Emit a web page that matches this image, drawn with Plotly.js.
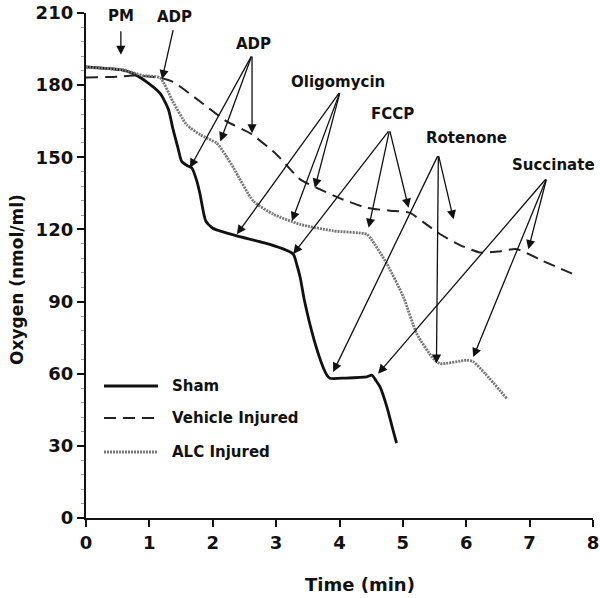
<!DOCTYPE html>
<html>
<head>
<meta charset="utf-8">
<script src="https://cdn.plot.ly/plotly-3.0.1.min.js"></script>
<style>html,body{margin:0;padding:0;background:#fff;}#chart{width:600px;height:598px;}</style>
</head>
<body>
<div id="chart"></div>
<script>
// Sham
const shamTime = [0, 0.3, 0.55, 0.74, 0.95, 1.17, 1.3, 1.37, 1.45, 1.51, 1.6, 1.67, 1.75, 1.8, 1.89, 2.0, 2.11, 2.38, 2.8, 3.1, 3.27, 3.33, 3.38, 3.45, 3.6, 3.74, 3.8, 3.85, 4.1, 4.43, 4.51, 4.58, 4.64, 4.75, 4.83, 4.9];
const shamO2 = [187.6, 187, 186.4, 184.9, 181.5, 176.6, 170, 162, 154, 148.3, 146.5, 145.6, 140, 134.6, 123.5, 120.5, 119.4, 117.3, 114.5, 112, 109.8, 105, 100, 90, 74, 62.8, 59.5, 58.1, 58.2, 58.7, 59.4, 57, 54.5, 46, 38, 31.1];
// Vehicle injured
const vehTime = [0, 0.5, 0.75, 1.17, 1.37, 1.8, 2.22, 2.59, 3.01, 3.38, 3.64, 4.0, 4.43, 4.8, 5.11, 5.35, 5.59, 5.9, 6.22, 6.5, 6.8, 7.2, 7.75];
const vehO2 = [183.2, 183.5, 184, 183, 181.4, 173.2, 164.9, 160, 151.1, 140.8, 137.3, 133, 129, 127.8, 126.9, 122.5, 118, 113.5, 110.4, 110.8, 111.8, 107, 100.7];
// ALC injured
const alcTime = [0, 0.3, 0.58, 0.9, 1.17, 1.37, 1.59, 1.8, 2.06, 2.2, 2.33, 2.64, 2.96, 3.38, 3.9, 4.43, 4.5, 4.75, 5.01, 5.22, 5.48, 5.59, 6.01, 6.11, 6.3, 6.64];
const alcO2 = [187.4, 187, 186.4, 184, 183, 173.2, 163.5, 159.4, 155.9, 151, 145.5, 131.8, 126.3, 122.1, 119.4, 118, 116, 105.6, 91.8, 76.6, 66.3, 64.2, 65.6, 65, 60, 49.7];

const seriesNames = ["Sham", "Vehicle Injured", "ALC Injured"];

// Annotation labels
const labelText = ["PM", "ADP", "ADP", "Oligomycin", "FCCP", "Rotenone", "Succinate"];
const labelX = [0.55, 1.4, 2.64, 3.98, 4.83, 6.0, 7.37];
const labelY = [208.6, 208.3, 197.2, 181.4, 168.2, 158.0, 147.0];
// Arrow tails (per label) and heads
const arrowTailX = [0.55, 1.38, 2.62, 4.01, 4.79, 5.56, 7.27];
const arrowTailY = [203, 203.5, 192.5, 177.3, 161.4, 151.1, 141.4];
const arrowHeads = [
  [[0.55, 192.6]],
  [[1.2, 182.5]],
  [[1.64, 145.6], [2.12, 156.6], [2.62, 160.0]],
  [[2.38, 118.0], [3.25, 123.5], [3.61, 137.3]],
  [[3.27, 109.8], [4.46, 120.7], [5.09, 129.0]],
  [[3.9, 60.7], [5.53, 64.2], [5.8, 124.2]],
  [[4.61, 60.0], [6.11, 66.9], [6.98, 111.8]]
];

const font = "DejaVu Sans, Verdana, sans-serif";

const traces = [
  {x: shamTime, y: shamO2, name: seriesNames[0], mode: "lines", line: {color: "#111", width: 2.8, shape: "spline", smoothing: 0.6}},
  {x: vehTime, y: vehO2, name: seriesNames[1], mode: "lines", line: {color: "#222", width: 2, dash: "12px,7px", shape: "spline", smoothing: 0.6}},
  {x: alcTime, y: alcO2, name: seriesNames[2], mode: "lines", line: {color: "#777", width: 2.8, dash: "2px,1px", shape: "spline", smoothing: 0.6}}
];

const annotations = [];
labelText.forEach((t, i) => {
  annotations.push({x: labelX[i], y: labelY[i], xref: "x", yref: "y", text: "<b>" + t + "</b>", showarrow: false, font: {family: font, size: 15, color: "#111"}});
  arrowHeads[i].forEach(h => {
    annotations.push({x: h[0], y: h[1], ax: arrowTailX[i], ay: arrowTailY[i], xref: "x", yref: "y", axref: "x", ayref: "y", text: "", showarrow: true, arrowhead: 2, arrowsize: 1.4, arrowwidth: 1.3, arrowcolor: "#111", standoff: 0, startstandoff: 0});
  });
});

// Manual legend
const shapes = [];
const legY = [386, 418, 452];
const legStyles = [
  {color: "#111", width: 2.8, dash: "solid"},
  {color: "#222", width: 2, dash: "12px,7px"},
  {color: "#777", width: 2.8, dash: "2px,1px"}
];
seriesNames.forEach((n, i) => {
  const py = 1 - (legY[i] - 13) / 505;
  shapes.push({type: "line", xref: "paper", yref: "paper", x0: (104 - 86) / 507, x1: (158 - 86) / 507, y0: py, y1: py, line: legStyles[i]});
  annotations.push({xref: "paper", yref: "paper", x: (170 - 86) / 507, y: py, xanchor: "left", yanchor: "middle", text: "<b>" + n + "</b>", showarrow: false, font: {family: font, size: 15, color: "#111"}});
});

// Axis titles (positioned as in the reference)
annotations.push({xref: "paper", yref: "paper", x: (360 - 86) / 507, y: 1 - (584 - 13) / 505, xanchor: "center", yanchor: "middle", text: "<b>Time (min)</b>", showarrow: false, font: {family: font, size: 18, color: "#111"}});
annotations.push({xref: "paper", yref: "paper", x: (17 - 86) / 507, y: 1 - (280 - 13) / 505, xanchor: "center", yanchor: "middle", textangle: -90, text: "<b>Oxygen (nmol/ml)</b>", showarrow: false, font: {family: font, size: 17, color: "#111"}});

const layout = {
  width: 600, height: 598,
  margin: {l: 86, r: 7, t: 13, b: 80},
  paper_bgcolor: "#fff", plot_bgcolor: "#fff",
  showlegend: false,
  font: {family: font, color: "#111"},
  xaxis: {
    range: [0, 8], tickvals: [0,1,2,3,4,5,6,7,8], ticks: "outside", ticklen: 7, tickwidth: 2, tickcolor: "#111",
    showline: true, linewidth: 2.2, linecolor: "#111", showgrid: false, zeroline: false,
    tickfont: {family: font, size: 18, color: "#111", weight: "bold"}
  },
  yaxis: {
    range: [0, 210], tickvals: [0,30,60,90,120,150,180,210], ticks: "outside", ticklen: 7, tickwidth: 2, tickcolor: "#111",
    showline: true, linewidth: 2.2, linecolor: "#111", showgrid: false, zeroline: false,
    tickfont: {family: font, size: 18, color: "#111", weight: "bold"},
    minor: {dtick: 6, ticks: "outside", ticklen: 3, tickwidth: 1, tickcolor: "#aaa", showgrid: false}
  },
  annotations: annotations,
  shapes: shapes
};

Plotly.newPlot("chart", traces, layout, {displayModeBar: false, staticPlot: true});
</script>
</body>
</html>
